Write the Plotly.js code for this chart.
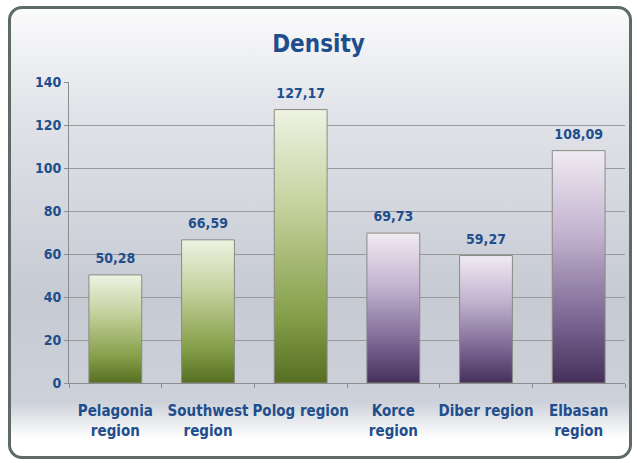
<!DOCTYPE html>
<html>
<head>
<meta charset="utf-8">
<script src="https://cdn.plot.ly/plotly-3.0.1.min.js"></script>
<style>
html,body{margin:0;padding:0;background:#fff;}
#frame{position:absolute;left:8px;top:6px;width:618px;height:447px;border:3px solid #5d6a66;border-radius:14px;
background:linear-gradient(to bottom,#fbfbfc 0%,#e2e4e9 22%,#c6cad3 65%,#cdd1d9 88%,#ffffff 96%);}
#chart{position:absolute;left:0;top:0;width:637px;height:463px;}
</style>
</head>
<body>
<div id="frame"></div>
<div id="chart"></div>
<script>
var categories = ["Pelagonia<br>region","Southwest<br>region","Polog region","Korce<br>region","Diber region","Elbasan<br>region"];
var values = [50.28, 66.59, 127.17, 69.73, 59.27, 108.09];
var groups = ["g","g","g","p","p","p"];
var yTicks = [0,20,40,60,80,100,120,140];

var labelColor = "#1f4e8c";
var fontFam = "'Liberation Sans Narrow','Arial Narrow','DejaVu Sans Condensed',sans-serif";

var trace = {
  type: "bar",
  x: categories,
  y: values,
  text: values.map(function(v){return v.toFixed(2).replace('.',',');}),
  textposition: "outside",
  cliponaxis: false,
  textfont: {family: fontFam, size: 14, color: labelColor, weight: "bold"},
  marker: {color: groups.map(function(g){return g==="g" ? "#9fb36a" : "#8e7aa6";}),
           line: {color: "#8a8a84", width: 1}},
  hoverinfo: "none"
};

var layout = {
  width: 637, height: 463,
  margin: {l: 69, r: 12, t: 82, b: 80},
  paper_bgcolor: "rgba(0,0,0,0)",
  plot_bgcolor: "rgba(0,0,0,0)",
  showlegend: false,
  bargap: 0.43,
  title: {text: "<b>Density</b>", x: 0.5, xanchor: "center", y: 0.905, yanchor: "middle",
          font: {family: fontFam, size: 24, color: labelColor}},
  xaxis: {
    type: "category",
    tickangle: 0,
    tickfont: {family: fontFam, size: 15, color: labelColor, weight: "bold"},
    ticklabelstandoff: 14,
    showline: true, linecolor: "#8c8c8c", linewidth: 1,
    ticks: "outside", ticklen: 4, tickcolor: "#8c8c8c", tickson: "boundaries",
    showgrid: false, fixedrange: true
  },
  yaxis: {
    range: [0, 140],
    tickvals: yTicks,
    ticktext: yTicks.map(String),
    tickfont: {family: fontFam, size: 14, color: labelColor, weight: "bold"},
    showline: true, linecolor: "#8c8c8c", linewidth: 1,
    ticks: "outside", ticklen: 4, tickcolor: "#8c8c8c",
    showgrid: true, gridcolor: "#9a9a9a", gridwidth: 1,
    zeroline: false, fixedrange: true
  }
};

Plotly.newPlot("chart", [trace], layout, {displayModeBar: false, staticPlot: true}).then(function(gd){
  var svg = gd.querySelector(".main-svg");
  var ns = "http://www.w3.org/2000/svg";
  var defs = svg.querySelector("defs") || svg.insertBefore(document.createElementNS(ns,"defs"), svg.firstChild);
  function grad(id, stops){
    var lg = document.createElementNS(ns,"linearGradient");
    lg.setAttribute("id", id); lg.setAttribute("x1","0"); lg.setAttribute("y1","0");
    lg.setAttribute("x2","0"); lg.setAttribute("y2","1");
    stops.forEach(function(s){
      var st = document.createElementNS(ns,"stop");
      st.setAttribute("offset", s[0]); st.setAttribute("stop-color", s[1]);
      lg.appendChild(st);
    });
    defs.appendChild(lg);
  }
  grad("gradGreen", [["0","#eef2e2"],["0.35","#c4d29e"],["0.75","#86a04a"],["1","#566e22"]]);
  grad("gradPurple", [["0","#f0ebf2"],["0.35","#c4b4d0"],["0.75","#77628f"],["1","#44305a"]]);
  var paths = gd.querySelectorAll(".bars .point path");
  paths.forEach(function(p, i){
    p.style.fill = groups[i] === "g" ? "url(#gradGreen)" : "url(#gradPurple)";
  });
  gd.querySelectorAll(".bars .point text").forEach(function(t){
    var tr = t.getAttribute("transform") || "";
    t.setAttribute("transform", "translate(0,-6) " + tr);
  });
});
</script>
</body>
</html>
